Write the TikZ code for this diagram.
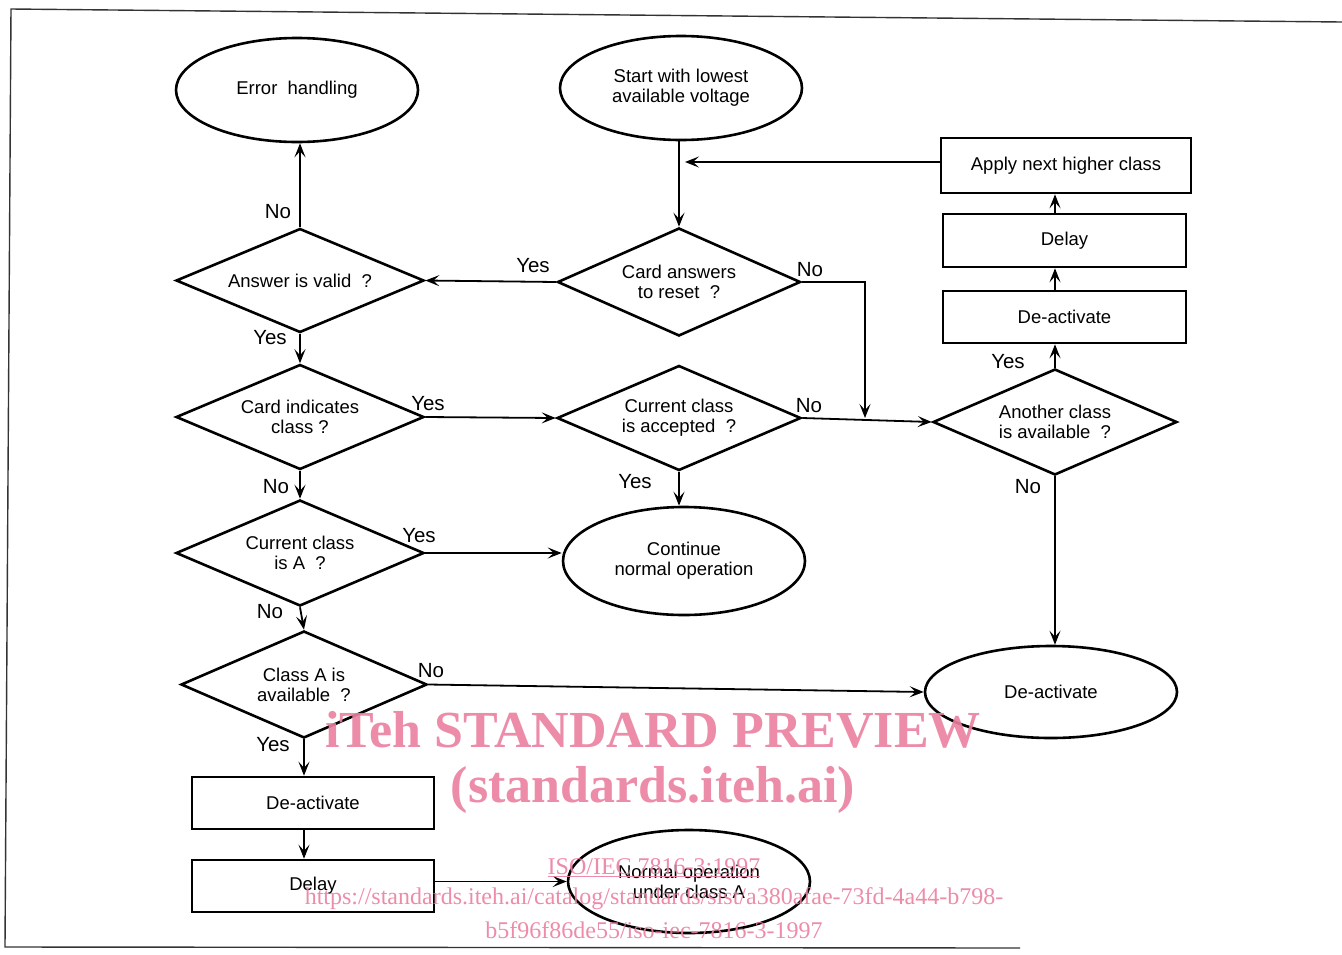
\documentclass[tikz,border=0pt]{standalone}
\usepackage{fontspec}
\setmainfont{Liberation Sans}
\newfontfamily\wmfont{Liberation Serif}
\usetikzlibrary{shapes.geometric,arrows.meta}
\definecolor{wm}{RGB}{234,128,160}
\tikzset{
  base/.style={draw, line width=2.6pt, inner sep=0pt, align=center, font=\fontsize{18.5}{20}\selectfont},
  oval/.style={base, ellipse, minimum width=242pt, minimum height=104pt},
  box/.style={base, rectangle, minimum width=242pt, minimum height=52pt},
  dia/.style={base, diamond, shape aspect=2.35, minimum width=246pt, minimum height=106pt},
  conn/.style={line width=1.8pt, -{Stealth[length=14pt,width=11pt,inset=6pt]}},
  lbl/.style={inner sep=0pt, font=\fontsize{20.5}{22}\selectfont},
  frame/.style={line width=1.4pt, black!80},
  wmbig/.style={inner sep=0pt, text=wm, opacity=0.9, font=\wmfont\bfseries\fontsize{52}{56}\selectfont},
  wmsmall/.style={inner sep=0pt, text=wm, opacity=0.9, font=\wmfont\fontsize{24}{28}\selectfont}
}
\begin{document}
\begin{tikzpicture}[x=1pt,y=-1pt]
\useasboundingbox (0,0) rectangle (1342,954);
% frame
\coordinate (f1) at (11,9);
\coordinate (f2) at (1342,22);
\coordinate (f3) at (5,947);
\coordinate (f4) at (1020,948);
\draw[frame] (f2) -- (f1) -- (f3) -- (f4);

% nodes
\node[oval] (err) at (297,90) {Error\ \ handling};
\node[oval] (start) at (681,88) {Start with lowest\\available voltage};
\node[box, minimum width=250pt, minimum height=55pt] (apply) at (1066,165.5) {Apply next higher class};
\node[box, minimum width=243pt, minimum height=53pt] (delayR) at (1064.5,240.5) {Delay};
\node[box, minimum width=243pt] (deactR) at (1064.5,317) {De-activate};
\node[dia, minimum width=248pt, minimum height=104pt] (valid) at (300,280.5) {Answer is valid\ \ ?};
\node[dia, minimum width=243pt, minimum height=108pt] (reset) at (679,282) {Card answers\\to reset\ \ ?};
\node[dia, minimum width=248pt, minimum height=105pt] (indic) at (300,417) {Card indicates\\class ?};
\node[dia, minimum width=244pt, minimum height=105pt] (accept) at (679,418) {Current class\\is accepted\ \ ?};
\node[dia, minimum width=244pt, minimum height=106pt] (another) at (1055,422) {Another class\\is available\ \ ?};
\node[dia, minimum width=248pt, minimum height=106pt] (isA) at (300,553) {Current class\\is A\ \ ?};
\node[oval, minimum height=108pt] (cont) at (684,561) {Continue\\normal operation};
\node[dia, minimum width=246pt, minimum height=107pt] (availA) at (304,684.5) {Class A is\\available\ \ ?};
\node[oval, minimum width=252pt, minimum height=92pt] (deactE) at (1051,692) {De-activate};
\node[box] (deactL) at (313,803) {De-activate};
\node[box] (delayL) at (313,886) {Delay};
\node[oval, minimum height=103pt] (normal) at (689,881.5) {Normal operation\\under class A};

% junction coordinates
\coordinate (j1) at (865,418);
\coordinate (j2) at (685,162);

% connectors
\draw[conn] (reset.north |- start.south) -- (reset.north);
\draw[conn] (j2 -| apply.west) -- (j2);
\draw[conn] (reset.west) -- (valid.east);
\draw[conn] (valid.north) -- (valid.north |- err.south);
\draw[conn] (valid.south) -- (indic.north);
\draw[conn] (reset.east) -| (j1);
\draw[conn] (indic.east) -- (accept.west);
\draw[conn] (accept.east) -- (another.west);
\draw[conn] (accept.south) -- (accept.south |- cont.north);
\draw[conn] (indic.south) -- (isA.north);
\draw[conn] (isA.east) -- (isA.east -| cont.west);
\draw[conn] (isA.south) -- (availA.north);
\draw[conn] (availA.east) -- (deactE.west);
\draw[conn] (availA.south) -- (availA.south |- deactL.north);
\draw[conn] (deactL.south -| availA.south) -- (availA.south |- delayL.north);
\draw[conn] (normal.west -| delayL.east) -- (normal.west);
\draw[conn] (another.north) -- (another.north |- deactR.south);
\draw[conn] (another.north |- deactR.north) -- (another.north |- delayR.south);
\draw[conn] (another.north |- delayR.north) -- (another.north |- apply.south);
\draw[conn] (another.south) -- (another.south |- deactE.north);

% labels
\node[lbl] (l1) at (278,212) {No};
\node[lbl] (l2) at (533,266) {Yes};
\node[lbl] (l3) at (270,338) {Yes};
\node[lbl] (l4) at (810,270) {No};
\node[lbl] (l5) at (428,404) {Yes};
\node[lbl] (l6) at (809,406) {No};
\node[lbl] (l7) at (635,482) {Yes};
\node[lbl] (l8) at (276,487) {No};
\node[lbl] (l9) at (419,536) {Yes};
\node[lbl] (l10) at (270,612) {No};
\node[lbl] (l11) at (431,671) {No};
\node[lbl] (l12) at (273,745) {Yes};
\node[lbl] (l13) at (1008,362) {Yes};
\node[lbl] (l14) at (1028,487) {No};

% watermark
\node[wmbig] (w1) at (653,730) {iTeh STANDARD PREVIEW};
\node[wmbig] (w2) at (653,790) {(standards.iteh.ai)};
\node[wmsmall] (w3) at (654,868) {\underline{ISO/IEC 7816-3:1997}};
\node[wmsmall] (w4) at (654,899) {https://standards.iteh.ai/catalog/standards/sist/a380afae-73fd-4a44-b798-};
\node[wmsmall] (w5) at (654,930) {b5f96f86de55/iso-iec-7816-3-1997};
\end{tikzpicture}
\end{document}
